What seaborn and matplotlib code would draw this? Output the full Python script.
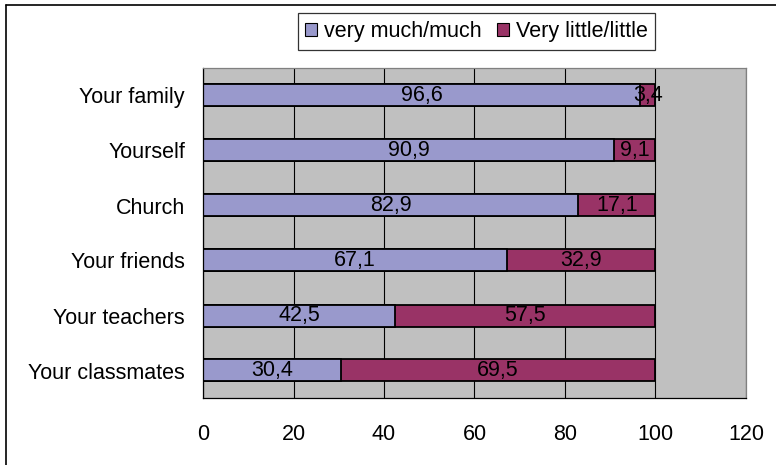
import matplotlib
matplotlib.use("Agg")
import matplotlib.pyplot as plt
from matplotlib.patches import Patch
from matplotlib.lines import Line2D
import seaborn as sns
import pandas as pd
import numpy as np

categories = ["Your family", "Yourself", "Church", "Your friends",
              "Your teachers", "Your classmates"]
much = [96.6, 90.9, 82.9, 67.1, 42.5, 30.4]
little = [3.4, 9.1, 17.1, 32.9, 57.5, 69.5]
series_names = ["very much/much", "Very little/little"]
x_ticks = [0, 20, 40, 60, 80, 100, 120]

col_much = "#9999CC"
col_little = "#993366"
FS = 15.5

df = pd.DataFrame({"category": categories, "much": much, "little": little})
df["total"] = df["much"] + df["little"]

sns.set_style("white")
plt.rcParams["font.family"] = ["Liberation Sans", "DejaVu Sans"]
plt.rcParams["text.color"] = "black"
plt.rcParams["xtick.labelcolor"] = "black"
plt.rcParams["ytick.labelcolor"] = "black"

fig = plt.figure(figsize=(7.76, 4.65), dpi=100)
ax = fig.add_axes([203 / 776, 1 - 398 / 465, (746 - 203) / 776, (398 - 68) / 465])
ax.set_facecolor("#C0C0C0")

# stacked bars: full total underneath, first series on top
sns.barplot(data=df, y="category", x="total", orient="h", color=col_little,
            saturation=1, width=0.4, edgecolor="black", linewidth=1.3, ax=ax)
sns.barplot(data=df, y="category", x="much", orient="h", color=col_much,
            saturation=1, width=0.4, edgecolor="black", linewidth=1.3, ax=ax)

for i, (m, l) in enumerate(zip(much, little)):
    ax.text(m / 2, i, f"{m:.1f}".replace(".", ","), ha="center", va="center",
            fontsize=FS, color="black")
    ax.text(m + l / 2, i, f"{l:.1f}".replace(".", ","), ha="center", va="center",
            fontsize=FS, color="black")

ax.set_xlim(0, 120)
ax.set_ylim(len(categories) - 0.5, -0.5)
ax.set_xticks(x_ticks)
ax.set_xticklabels([str(t) for t in x_ticks], fontsize=FS)
ax.xaxis.grid(True, color="black", linewidth=0.8)
ax.set_axisbelow(True)
ax.set_xlabel("")
ax.set_ylabel("")
ax.tick_params(axis="y", which="major", length=0, labelsize=FS, pad=13,
               labelcolor="black")
ax.set_yticks(np.arange(len(categories) + 1) - 0.5, minor=True)
ax.tick_params(axis="y", which="minor", length=4, width=0.8, color="black",
               direction="out")
ax.tick_params(axis="x", which="major", length=5, width=0.8, color="black",
               direction="out", pad=14, labelcolor="black")

for side in ["left", "bottom"]:
    ax.spines[side].set_color("black")
    ax.spines[side].set_linewidth(0.9)
for side in ["top", "right"]:
    ax.spines[side].set_color("#808080")
    ax.spines[side].set_linewidth(0.9)

handles = [Patch(facecolor=col_much, edgecolor="black", linewidth=0.8),
           Patch(facecolor=col_little, edgecolor="black", linewidth=0.8)]
leg = fig.legend(handles, series_names, loc="center",
                 bbox_to_anchor=(476.5 / 776, 1 - 31.5 / 465), ncol=2,
                 frameon=True, fancybox=False, fontsize=FS,
                 handlelength=0.55, handleheight=0.55, handletextpad=0.3,
                 columnspacing=0.75, borderpad=0.35, borderaxespad=0)
leg.get_frame().set_edgecolor("black")
leg.get_frame().set_linewidth(0.9)
for t in leg.get_texts():
    t.set_color("black")

# frame lines on the left and top edges of the figure
fig.add_artist(Line2D([5.5 / 776, 5.5 / 776], [0, 1 - 5 / 465], color="black",
                      linewidth=1.2, transform=fig.transFigure))
fig.add_artist(Line2D([5.5 / 776, 1], [1 - 5 / 465, 1 - 5 / 465], color="black",
                      linewidth=1.2, transform=fig.transFigure))

fig.savefig("out.png", dpi=100)
